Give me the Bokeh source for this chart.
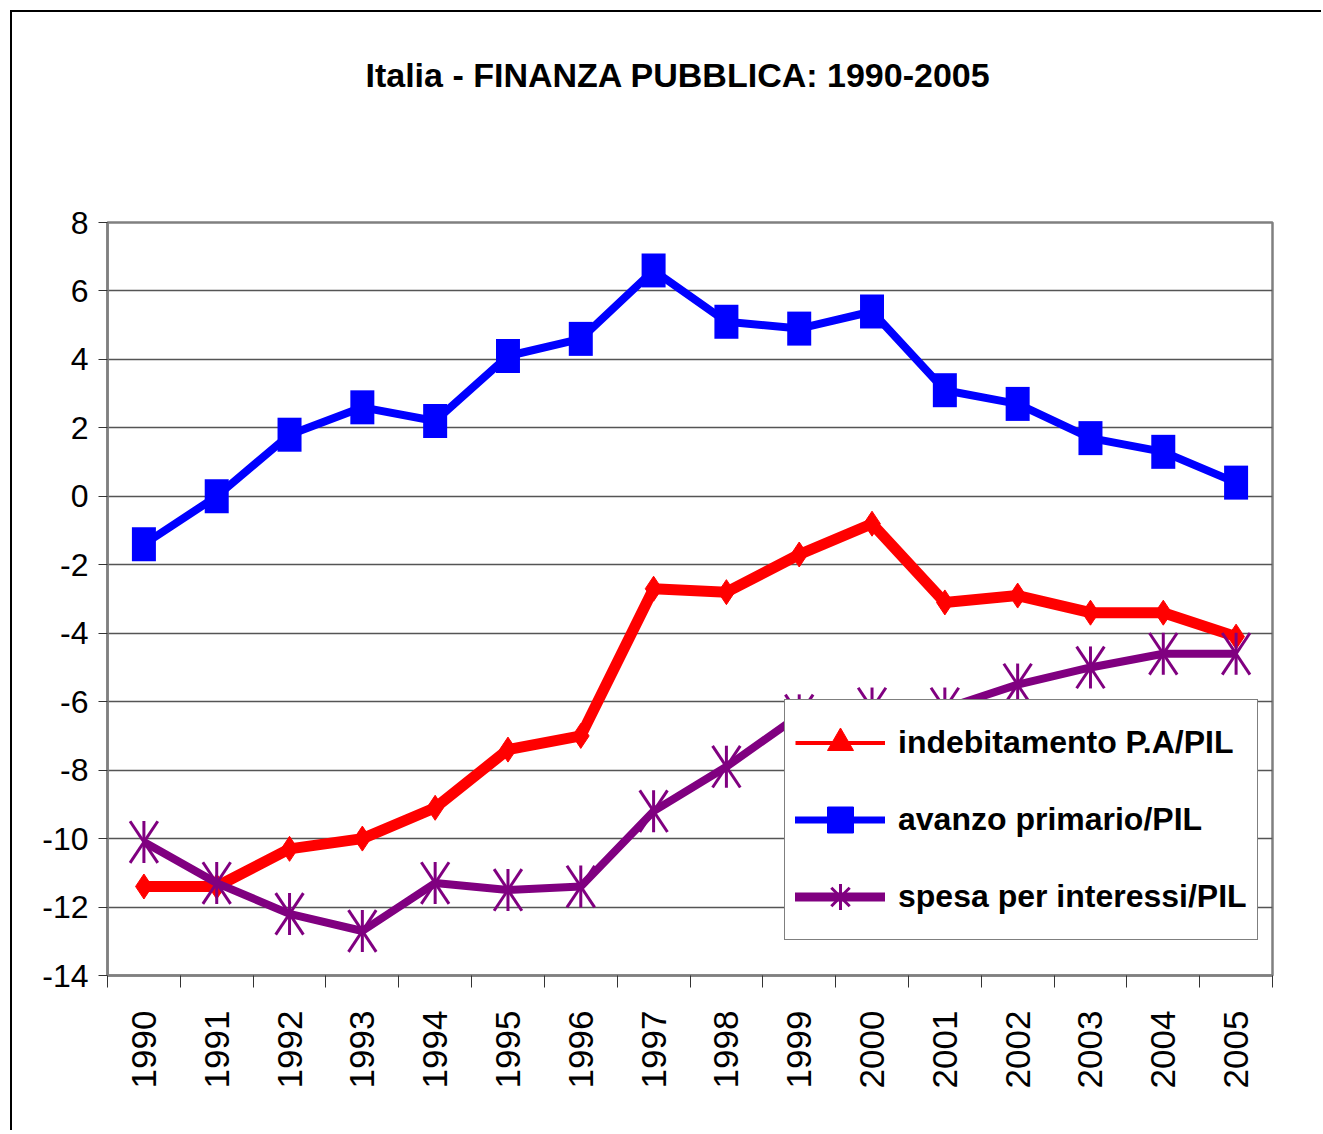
import math
from bokeh.plotting import figure
from bokeh.models import Range1d, FixedTicker, Legend, LegendItem, LinearAxis
from bokeh.embed import file_html
from bokeh.resources import INLINE

# ---- data ----
years = ["1990", "1991", "1992", "1993", "1994", "1995", "1996", "1997",
         "1998", "1999", "2000", "2001", "2002", "2003", "2004", "2005"]
indebitamento = [-11.4, -11.4, -10.3, -10.0, -9.1, -7.4, -7.0, -2.7,
                 -2.8, -1.7, -0.8, -3.1, -2.9, -3.4, -3.4, -4.1]
avanzo = [-1.4, 0.0, 1.8, 2.6, 2.2, 4.1, 4.6, 6.6,
          5.1, 4.9, 5.4, 3.1, 2.7, 1.7, 1.3, 0.4]
interessi = [-10.1, -11.3, -12.2, -12.7, -11.3, -11.5, -11.4, -9.2,
             -7.9, -6.4, -6.2, -6.2, -5.5, -5.0, -4.6, -4.6]
yticks = [-14, -12, -10, -8, -6, -4, -2, 0, 2, 4, 6, 8]
labels = ["indebitamento P.A/PIL", "avanzo primario/PIL", "spesa per interessi/PIL"]
title_text = "Italia - FINANZA PUBBLICA: 1990-2005"

RED, BLUE, PURPLE = "#FF0000", "#0000FF", "#800080"
FONT = "Liberation Sans"
NAN = float("nan")

xpos = [i + 0.5 for i in range(len(years))]
bounds = [float(i) for i in range(len(years) + 1)]

p = figure(width=1311, height=1120,
           x_range=Range1d(0, len(years)), y_range=Range1d(yticks[0], yticks[-1]),
           output_backend="svg", toolbar_location=None,
           min_border_left=95, min_border_right=51,
           min_border_top=210, min_border_bottom=157)
p.styles = {"border-left": "2px solid black", "border-top": "2px solid black",
            "margin-left": "10px", "margin-top": "10px"}
p.background_fill_color = "white"
p.border_fill_color = "white"
p.outline_line_color = "#808080"
p.outline_line_width = 2.5

# title
p.title.text = title_text
p.title.align = "left"
p.title.offset = 258
p.title.text_font = FONT
p.title.text_font_style = "bold"
p.title.text_font_size = "34px"
p.title.text_color = "black"
p.title.standoff = 10

# x axis (bottom)
xa = p.below[0]
xa.ticker = FixedTicker(ticks=xpos, minor_ticks=bounds)
xa.major_label_overrides = {xv: yr for xv, yr in zip(xpos, years)}
xa.major_label_orientation = math.pi / 2
xa.major_tick_out = 0
xa.major_tick_in = 0
xa.minor_tick_out = 12
xa.minor_tick_in = 0
xa.minor_tick_line_color = "#333333"
xa.minor_tick_line_width = 1
xa.axis_line_color = "#808080"
xa.axis_line_width = 2.5
xa.major_label_standoff = 23
xa.major_label_text_font = FONT
xa.major_label_text_font_size = "35px"
xa.major_label_text_color = "black"

# y axis
ya = p.left[0]
ya.ticker = FixedTicker(ticks=yticks)
ya.major_label_overrides = {t: str(t) for t in yticks}
ya.major_tick_out = 9
ya.major_tick_in = 0
ya.major_tick_line_color = "#333333"
ya.major_tick_line_width = 1
ya.minor_tick_line_color = None
ya.axis_line_color = "#808080"
ya.axis_line_width = 2.5
ya.major_label_standoff = 10
ya.major_label_text_font = FONT
ya.major_label_text_font_size = "32px"
ya.major_label_text_color = "black"

# invisible spacer between title and frame (one hidden tick, empty label)
spacer = LinearAxis(ticker=FixedTicker(ticks=[bounds[0]]),
                    major_label_overrides={bounds[0]: ""},
                    major_tick_out=124, major_tick_in=0,
                    minor_tick_out=0, minor_tick_in=0,
                    major_label_standoff=0, major_label_text_font_size="1px",
                    axis_line_color=None,
                    major_tick_line_color=None, minor_tick_line_color=None)
p.add_layout(spacer, "above")

p.xgrid.visible = False
p.ygrid.grid_line_color = "#555555"
p.ygrid.grid_line_width = 1.5

# series 1: indebitamento (red, diamonds)
p.line(xpos, indebitamento, line_color=RED, line_width=11, line_join="round")
p.scatter(xpos, indebitamento, marker="diamond", size=25,
          fill_color=RED, line_color=RED)

# series 2: avanzo primario (blue, squares)
p.line(xpos, avanzo, line_color=BLUE, line_width=8, line_join="round")
p.rect(xpos, avanzo, width=24, height=34, width_units="screen",
       height_units="screen", fill_color=BLUE, line_color=None)

# series 3: spesa per interessi (purple, asterisks)
p.line(xpos, interessi, line_color=PURPLE, line_width=8, line_join="round")
diag = math.atan2(42, 28)
p.scatter(xpos, interessi, marker="dash", size=42, angle=math.pi / 2,
          line_color=PURPLE, line_width=3)
p.scatter(xpos, interessi, marker="dash", size=50, angle=diag,
          line_color=PURPLE, line_width=3)
p.scatter(xpos, interessi, marker="dash", size=50, angle=math.pi - diag,
          line_color=PURPLE, line_width=3)

# legend glyphs (as in the reference legend; no visible points in the plot)
l1 = p.line([NAN], [NAN], line_color=RED, line_width=4)
m1 = p.scatter([NAN], [NAN], marker="triangle", fill_color=RED, line_color=RED)
l2 = p.line([NAN], [NAN], line_color=BLUE, line_width=7, line_cap="round")
m2 = p.scatter([NAN], [NAN], marker="square", fill_color=BLUE, line_color=BLUE)
l3 = p.line([NAN], [NAN], line_color=PURPLE, line_width=9, line_cap="round")
m3 = p.scatter([NAN], [NAN], marker="asterisk", line_color=PURPLE, line_width=3)

legend = Legend(items=[LegendItem(label=labels[0], renderers=[l1, m1]),
                       LegendItem(label=labels[1], renderers=[l2, m2]),
                       LegendItem(label=labels[2], renderers=[l3, m3])],
                location=(677, 35), margin=0, padding=10, spacing=12,
                glyph_width=90, glyph_height=65, label_standoff=13,
                label_text_font=FONT, label_text_font_style="bold",
                label_text_font_size="32px", label_text_color="black",
                border_line_color="black", border_line_width=1.5,
                background_fill_color="white", background_fill_alpha=1.0)
p.add_layout(legend)

open("out.html", "w").write(file_html(p, INLINE))
